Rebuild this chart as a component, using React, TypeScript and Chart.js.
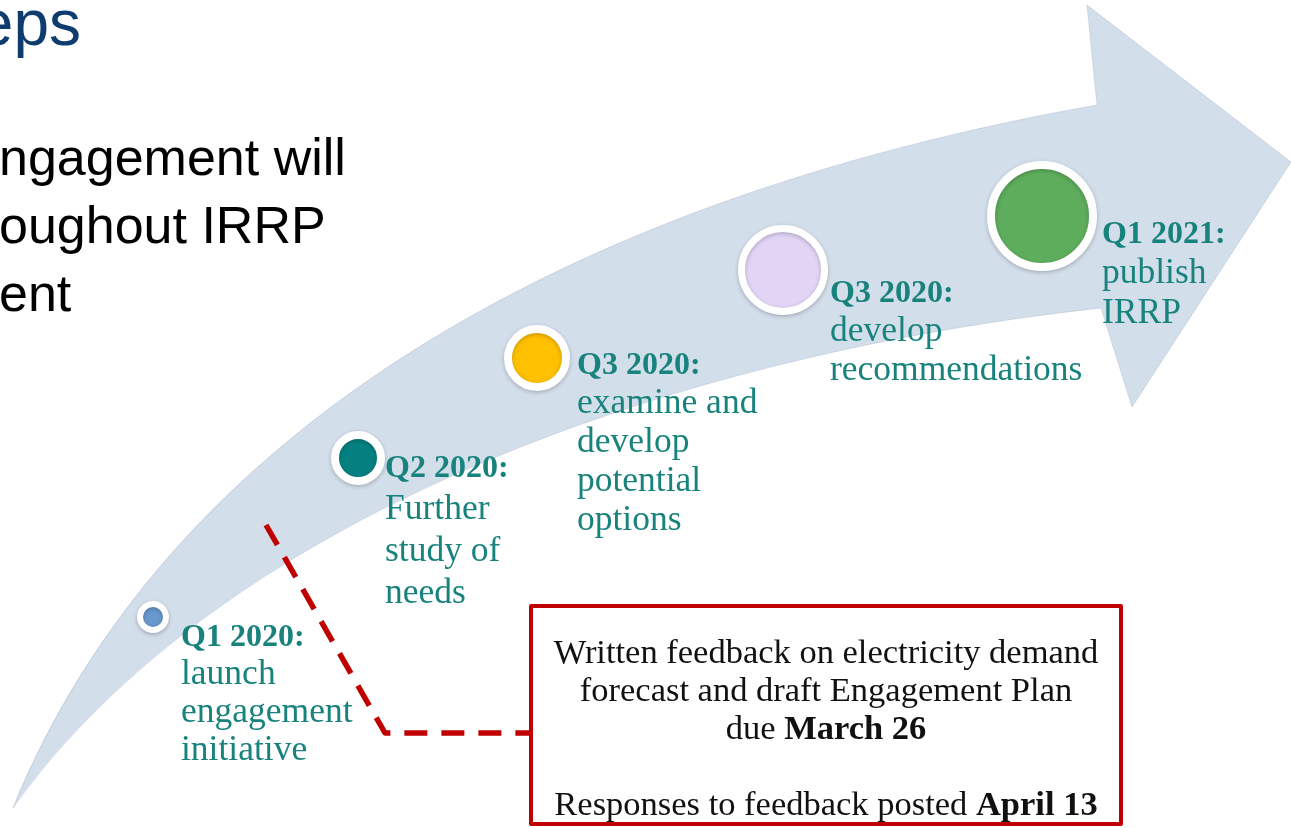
import React, { useEffect, useRef } from "react";
import { Chart, registerables } from "chart.js";

Chart.register(...registerables);

// ---------- data ----------
const milestoneTitles = ["Q1 2020:", "Q2 2020:", "Q3 2020:", "Q3 2020:", "Q1 2021:"];
const milestoneNotes = [
  ["launch", "engagement", "initiative"],
  ["Further", "study of", "needs"],
  ["examine and", "develop", "potential", "options"],
  ["develop", "recommendations"],
  ["publish", "IRRP"],
];
const milestoneX = [153, 358, 537, 783, 1042];
const milestoneY = [617, 458, 358, 270, 216];
const milestoneSize = [13, 23, 29, 41.5, 51];
const milestoneColors = ["#6898CD", "#058080", "#FFC000", "#E2D4F5", "#5EAD5C"];

const headerFragment = "eps";
const bodyFragments = ["ngagement will", "oughout IRRP", "ent"];
const feedbackLines = [
  [{ t: "Written feedback on electricity demand", b: false }],
  [{ t: "forecast and draft Engagement Plan", b: false }],
  [{ t: "due ", b: false }, { t: "March 26", b: true }],
  [],
  [{ t: "Responses to feedback posted ", b: false }, { t: "April 13", b: true }],
];

// ---------- shapes / styles (in scale units) ----------
const ARROW = {
  tail: [13, 808],
  upperC1: [165, 435],
  upperC2: [560, 200],
  notchTop: [1097, 105],
  headTop: [1087, 5],
  tip: [1291, 162],
  headBottom: [1132, 407],
  notchBottom: [1101, 308],
  lowerC2: [655, 357],
  lowerC1: [216, 524],
};
const DASH_PATH = [[266, 525], [385, 733], [531, 733]];
const BOX = { x0: 531, y0: 606, x1: 1121, y1: 824 };
const LABEL_DX = [28, 27, 40, 47, 60];
const LABEL_DY = [29, 19, 16, 32, 27];
const LABEL_LH = [38, 42, 39, 39, 40];
const RING = [6, 8, 8, 7, 8];

const SERIF = '"Liberation Serif", "Times New Roman", serif';
const SANS = '"Liberation Sans", Arial, sans-serif';
const TEAL = "#18827D";
const RED = "#C00000";

const infographic = {
  id: "infographic",
  beforeDatasetsDraw(chart: any) {
    const { ctx } = chart;
    const sx = chart.scales.x;
    const sy = chart.scales.y;
    const P = (p: number[]) => [sx.getPixelForValue(p[0]), sy.getPixelForValue(p[1])];

    ctx.save();
    // arrow
    const a = ARROW;
    const t = P(a.tail);
    ctx.beginPath();
    ctx.moveTo(t[0], t[1]);
    let c1 = P(a.upperC1), c2 = P(a.upperC2), e = P(a.notchTop);
    ctx.bezierCurveTo(c1[0], c1[1], c2[0], c2[1], e[0], e[1]);
    [a.headTop, a.tip, a.headBottom, a.notchBottom].forEach((q) => {
      const pp = P(q);
      ctx.lineTo(pp[0], pp[1]);
    });
    c1 = P(a.lowerC2);
    c2 = P(a.lowerC1);
    ctx.bezierCurveTo(c1[0], c1[1], c2[0], c2[1], t[0], t[1]);
    ctx.closePath();
    ctx.fillStyle = "#D3DEEB";
    ctx.fill();
    ctx.strokeStyle = "rgba(160,175,195,0.45)";
    ctx.lineWidth = 0.8;
    ctx.stroke();

    // dashed connector
    ctx.beginPath();
    DASH_PATH.forEach((q, i) => {
      const pp = P(q);
      if (i === 0) ctx.moveTo(pp[0], pp[1]);
      else ctx.lineTo(pp[0], pp[1]);
    });
    ctx.setLineDash([23, 14]);
    ctx.lineWidth = 5.5;
    ctx.lineJoin = "round";
    ctx.strokeStyle = RED;
    ctx.stroke();
    ctx.setLineDash([]);

    // box
    const b0 = P([BOX.x0, BOX.y0]);
    const b1 = P([BOX.x1, BOX.y1]);
    ctx.fillStyle = "#FFFFFF";
    ctx.fillRect(b0[0], b0[1], b1[0] - b0[0], b1[1] - b0[1]);
    ctx.lineWidth = 4;
    ctx.strokeStyle = RED;
    ctx.strokeRect(b0[0], b0[1], b1[0] - b0[0], b1[1] - b0[1]);

    // box text
    const cx = (b0[0] + b1[0]) / 2;
    ctx.fillStyle = "#111111";
    ctx.textBaseline = "alphabetic";
    ctx.textAlign = "left";
    const fontR = `34.5px ${SERIF}`;
    const fontB = `bold 34.5px ${SERIF}`;
    feedbackLines.forEach((runs, i) => {
      if (!runs.length) return;
      let w = 0;
      runs.forEach((r) => {
        ctx.font = r.b ? fontB : fontR;
        w += ctx.measureText(r.t).width;
      });
      let xx = cx - w / 2;
      const yy = b0[1] + 57 + i * 38;
      runs.forEach((r) => {
        ctx.font = r.b ? fontB : fontR;
        ctx.fillText(r.t, xx, yy);
        xx += ctx.measureText(r.t).width;
      });
    });

    // header / body fragments (cut-off slide text)
    ctx.fillStyle = "#0F3C6E";
    ctx.font = `64px ${SANS}`;
    ctx.textAlign = "right";
    ctx.fillText(headerFragment, 81, 45);
    ctx.fillStyle = "#000000";
    ctx.font = `52px ${SANS}`;
    ctx.textAlign = "left";
    bodyFragments.forEach((s, i) => ctx.fillText(s, -1, 175 + i * 68));
    ctx.restore();

    // subtle shadow for bubbles
    ctx.save();
    ctx.shadowColor = "rgba(0,0,0,0.22)";
    ctx.shadowBlur = 4;
    ctx.shadowOffsetY = 1.5;
  },
  afterDatasetsDraw(chart: any) {
    const { ctx } = chart;
    ctx.restore();
    const meta = chart.getDatasetMeta(0);
    ctx.save();
    ctx.fillStyle = TEAL;
    ctx.textAlign = "left";
    ctx.textBaseline = "alphabetic";
    meta.data.forEach((el: any, i: number) => {
      const x0 = el.x + LABEL_DX[i];
      let yy = el.y + LABEL_DY[i];
      ctx.font = `bold 32px ${SERIF}`;
      ctx.fillText(milestoneTitles[i], x0, yy);
      ctx.font = `35.5px ${SERIF}`;
      milestoneNotes[i].forEach((line) => {
        yy += LABEL_LH[i];
        ctx.fillText(line, x0, yy);
      });
    });
    ctx.restore();
  },
};

export default function App() {
  const ref = useRef<HTMLCanvasElement | null>(null);
  useEffect(() => {
    if (!ref.current) return;
    const chart = new Chart(ref.current, {
      type: "bubble",
      data: {
        datasets: [
          {
            label: "Milestones",
            data: milestoneX.map((x, i) => ({ x, y: milestoneY[i], r: milestoneSize[i] })),
            backgroundColor: milestoneColors,
            borderColor: "#FFFFFF",
            borderWidth: RING,
            hoverBorderWidth: RING,
            clip: false,
          } as any,
        ],
      },
      options: {
        animation: false,
        responsive: false,
        events: [],
        layout: { padding: 0, autoPadding: false } as any,
        plugins: { legend: { display: false }, tooltip: { enabled: false } },
        scales: {
          x: { type: "linear", min: 0, max: 1291, display: false },
          y: { type: "linear", min: 0, max: 828, reverse: true, display: false },
        },
      },
      plugins: [infographic],
    });
    return () => chart.destroy();
  }, []);
  return (
    <div style={{ position: "fixed", left: 0, top: 0, width: 1291, height: 828, background: "#fff" }}>
      <canvas ref={ref} width={1291} height={828} style={{ display: "block" }} />
    </div>
  );
}
